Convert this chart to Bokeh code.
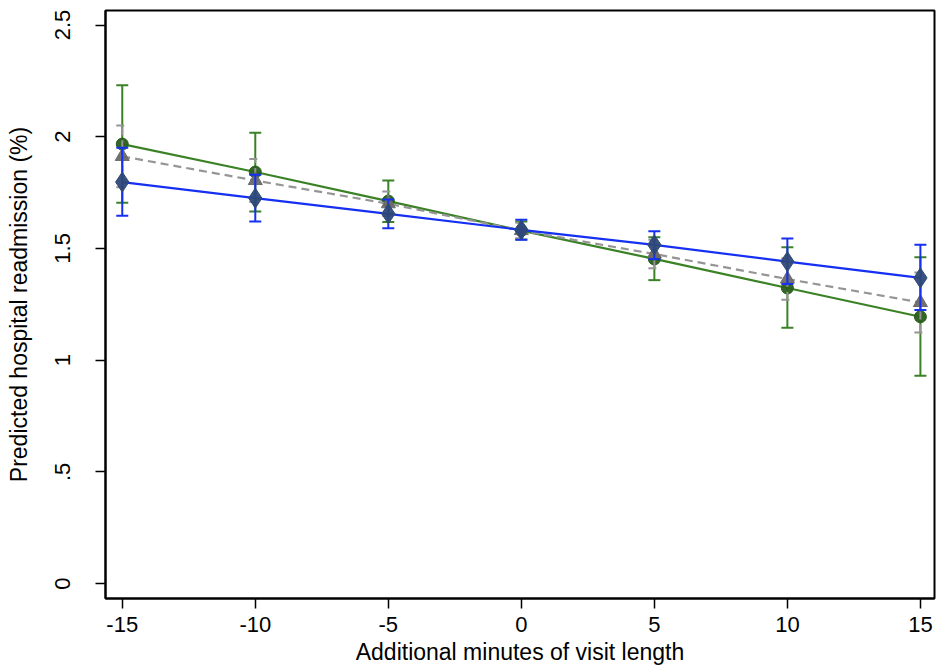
from bokeh.plotting import figure
from bokeh.models import ColumnDataSource, FixedTicker, Range1d
from bokeh.embed import file_html
from bokeh.resources import INLINE

minutes = [-15, -10, -5, 0, 5, 10, 15]

green_mean = [1.967, 1.842, 1.712, 1.580, 1.453, 1.323, 1.194]
green_lo = [1.705, 1.665, 1.618, 1.540, 1.358, 1.145, 0.930]
green_hi = [2.230, 2.018, 1.804, 1.620, 1.550, 1.505, 1.460]

gray_mean = [1.912, 1.804, 1.700, 1.580, 1.475, 1.363, 1.258]
gray_lo = [1.774, 1.708, 1.645, 1.545, 1.411, 1.270, 1.124]
gray_hi = [2.050, 1.900, 1.755, 1.615, 1.539, 1.456, 1.392]

blue_mean = [1.797, 1.725, 1.655, 1.583, 1.516, 1.441, 1.368]
blue_lo = [1.646, 1.620, 1.590, 1.539, 1.452, 1.341, 1.224]
blue_hi = [1.951, 1.830, 1.719, 1.628, 1.577, 1.544, 1.516]

y_ticks = [0, 0.5, 1, 1.5, 2, 2.5]
y_tick_labels = ["0", ".5", "1", "1.5", "2", "2.5"]
x_ticks = [-15, -10, -5, 0, 5, 10, 15]
x_tick_labels = ["-15", "-10", "-5", "0", "5", "10", "15"]

FONT = "Liberation Sans"

p = figure(width=936, height=668, output_backend="svg", toolbar_location=None,
           x_range=Range1d(-15.63, 15.53), y_range=Range1d(-0.067, 2.565),
           min_border_left=105, min_border_right=2, min_border_top=10, min_border_bottom=70)
p.xgrid.visible = False
p.ygrid.visible = False
p.outline_line_color = "black"
p.outline_line_width = 2
p.background_fill_color = "white"
p.border_fill_color = "white"

series = [
    (green_mean, green_lo, green_hi, "#3b8226", "#2a5e1c", "circle", 12, "solid"),
    (gray_mean, gray_lo, gray_hi, "#959595", "#6a6a6a", "triangle", 14, "8 5"),
    (blue_mean, blue_lo, blue_hi, "#1530f2", "#2e4977", "diamond", 20, "solid"),
]

for mean, lo, hi, lc, mc, marker, msize, dash in series:
    src = ColumnDataSource(dict(x=minutes, y=mean, lo=lo, hi=hi))
    p.segment(x0="x", y0="lo", x1="x", y1="hi", source=src,
              line_color=lc, line_width=2, line_dash=dash)
    p.scatter("x", "lo", source=src, marker="dash", size=12,
              line_color=lc, line_width=2, line_dash=dash)
    p.scatter("x", "hi", source=src, marker="dash", size=12,
              line_color=lc, line_width=2, line_dash=dash)
    p.line("x", "y", source=src, line_color=lc, line_width=2.2, line_dash=dash)
    p.scatter("x", "y", source=src, marker=marker, size=msize,
              fill_color=mc, line_color=mc, fill_alpha=0.95)

p.yaxis.ticker = FixedTicker(ticks=y_ticks)
p.yaxis.major_label_overrides = {t: l for t, l in zip(y_ticks, y_tick_labels)}
p.yaxis.major_label_orientation = "vertical"
p.xaxis.ticker = FixedTicker(ticks=x_ticks)
p.xaxis.major_label_overrides = {t: l for t, l in zip(x_ticks, x_tick_labels)}

for ax in (p.xaxis[0], p.yaxis[0]):
    ax.axis_line_color = "black"
    ax.axis_line_width = 2
    ax.major_tick_line_color = "black"
    ax.major_tick_line_width = 1.5
    ax.major_tick_out = 10
    ax.major_tick_in = 0
    ax.minor_tick_line_color = None
    ax.major_label_text_font = FONT
    ax.major_label_text_font_size = "22px"
    ax.major_label_text_color = "black"
    ax.axis_label_text_font = FONT
    ax.axis_label_text_font_size = "23px"
    ax.axis_label_text_font_style = "normal"
    ax.axis_label_text_color = "black"

p.xaxis.axis_label = "Additional minutes of visit length"
p.yaxis.axis_label = "Predicted hospital readmission (%)"
p.xaxis.major_label_standoff = 8
p.xaxis.axis_label_standoff = 4
p.yaxis.major_label_standoff = 25
p.yaxis.axis_label_standoff = 21

open("out.html", "w").write(file_html(p, INLINE))
